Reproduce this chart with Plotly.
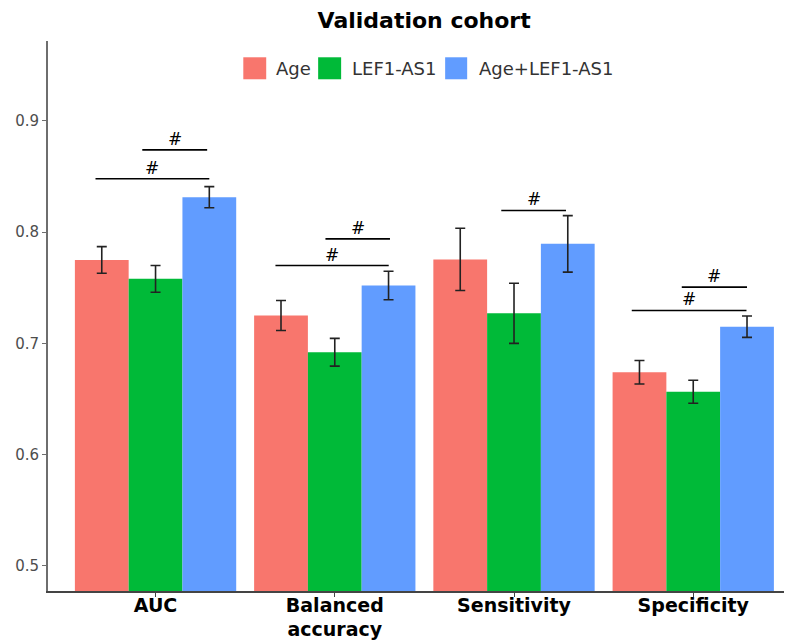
import plotly.graph_objects as go

categories = ["AUC", "Balanced<br>accuracy", "Sensitivity", "Specificity"]
x_pos = [1, 2, 3, 4]

series_names = ["Age", "LEF1-AS1", "Age+LEF1-AS1"]
age_vals = [0.775, 0.725, 0.7755, 0.674]
age_err = [0.012, 0.0135, 0.028, 0.0106]
lef_vals = [0.758, 0.692, 0.727, 0.6565]
lef_err = [0.012, 0.0125, 0.027, 0.0103]
comb_vals = [0.8314, 0.752, 0.7895, 0.715]
comb_err = [0.0095, 0.0128, 0.0254, 0.0096]

colors = ["#F8766D", "#00BA38", "#619CFF"]

# significance brackets (x in category units)
sig_x0 = [0.665, 0.926, 1.669, 1.948, 2.929, 3.657, 3.936]
sig_x1 = [1.300, 1.288, 2.301, 2.308, 3.290, 4.297, 4.300]
sig_y = [0.848, 0.874, 0.770, 0.794, 0.8195, 0.7296, 0.7506]
sig_label = "#"

ytick_vals = [0.5, 0.6, 0.7, 0.8, 0.9]

FONT = "DejaVu Sans"

fig = go.Figure()
for name, vals, errs, col in zip(series_names,
                                 [age_vals, lef_vals, comb_vals],
                                 [age_err, lef_err, comb_err], colors):
    fig.add_trace(go.Bar(
        x=x_pos, y=vals, name=name, marker_color=col, marker_line_width=0,
        error_y=dict(type="data", array=errs, visible=True,
                     color="#222222", thickness=1.6, width=5),
        showlegend=False,
    ))

for x0, x1, y in zip(sig_x0, sig_x1, sig_y):
    fig.add_trace(go.Scatter(x=[x0, x1], y=[y, y], mode="lines",
                             line=dict(color="black", width=1.6),
                             showlegend=False, hoverinfo="skip"))
    fig.add_annotation(x=(x0 + x1) / 2, y=y, text=sig_label, showarrow=False,
                       yanchor="bottom", xanchor="center", yshift=-1,
                       font=dict(family=FONT, size=17, color="black"))

# manual legend (large square keys as in the reference)
leg_sq = [(0.2625, 0.2933), (0.3631, 0.3940), (0.5338, 0.5634)]
leg_tx = [0.3040, 0.4062, 0.5768]
for (a, b), tx, name, col in zip(leg_sq, leg_tx, series_names, colors):
    fig.add_shape(type="rect", xref="paper", yref="paper", x0=a, x1=b,
                  y0=0.9304, y1=0.9704, fillcolor=col, line=dict(width=0))
    fig.add_annotation(xref="paper", yref="paper", x=tx, y=0.9504, text=name,
                       showarrow=False, xanchor="left", yanchor="middle",
                       font=dict(family=FONT, size=18, color="#333333"))

fig.update_layout(
    width=792, height=640,
    margin=dict(l=40, r=8, t=33, b=57, autoexpand=False),
    paper_bgcolor="white", plot_bgcolor="white",
    barmode="group", bargap=0.1, bargroupgap=0,
    font=dict(family=FONT),
    title=dict(text="<b>Validation cohort</b>", x=0.5056, xref="paper",
               y=1 - 12 / 640, yref="container", xanchor="center",
               yanchor="middle", font=dict(family=FONT, size=22, color="black")),
)
fig.update_xaxes(
    range=[0.4, 4.551], tickvals=x_pos, automargin=False,
    ticktext=["<b>%s</b>" % c for c in categories],
    tickfont=dict(family=FONT, size=19, color="black"),
    ticklabelstandoff=-8,
    showline=True, linecolor="#444444", linewidth=1.5,
    ticks="outside", ticklen=4, tickcolor="#444444", showgrid=False,
    zeroline=False,
)
fig.update_yaxes(
    range=[0.4773, 0.9719], tickvals=ytick_vals, tickformat=".1f",
    automargin=False,
    tickfont=dict(family=FONT, size=15, color="#4d4d4d"),
    showline=True, linecolor="#6e6e6e", linewidth=2,
    ticks="outside", ticklen=4, tickcolor="#6e6e6e", showgrid=False,
    zeroline=False,
)

fig.write_html("out.html")
